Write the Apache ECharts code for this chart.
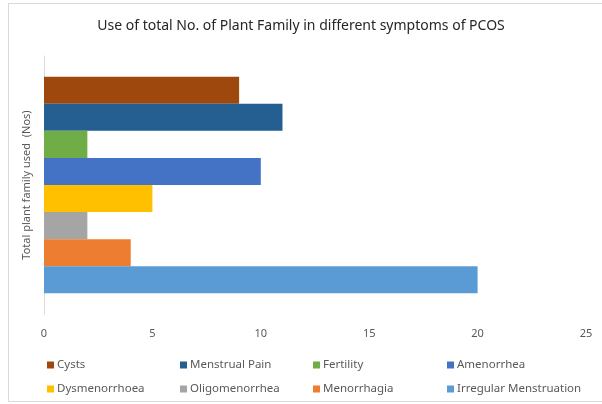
<!DOCTYPE html>
<html>
<head>
<meta charset="utf-8">
<style>
  html, body { margin: 0; padding: 0; background: #fff; }
  #chart { width: 602px; height: 404px; }
</style>
<script src="https://cdn.jsdelivr.net/npm/echarts@6/dist/echarts.min.js"></script>
</head>
<body>
<div id="chart"></div>
<script>
// symptoms, listed top to bottom as in the picture
const symptoms = ['Cysts', 'Menstrual Pain', 'Fertility', 'Amenorrhea',
    'Dysmenorrhoea', 'Oligomenorrhea', 'Menorrhagia', 'Irregular Menstruation'];
const familyCounts = [9, 11, 2, 10, 5, 2, 4, 20];
const colors = ['#9E480E', '#255E91', '#70AD47', '#4472C4',
    '#FFC000', '#A5A5A5', '#ED7D31', '#5B9BD5'];
const xTicks = [0, 5, 10, 15, 20, 25];

const chart = echarts.init(document.getElementById('chart'));
const font = 'Noto Sans';

const series = symptoms.map((name, i) => ({
    name: name,
    type: 'bar',
    data: [familyCounts[i]],
    barGap: 0,
    barCategoryGap: '16%',
    itemStyle: { color: colors[i] },
}));

// four legend columns, two items each
const legendCols = [47, 180, 313, 447];
const legends = legendCols.map((left, c) => ({
    orient: 'vertical',
    left: left,
    top: 359,
    padding: 0,
    itemWidth: 7,
    itemHeight: 7,
    itemGap: 12,
    icon: 'rect',
    selectedMode: false,
    data: [symptoms[c], symptoms[c + 4]],
    textStyle: { color: '#595959', fontSize: 11.5, fontFamily: font, padding: [0, 0, 0, -2] },
}));

const options = {
    animation: false,
    title: {
        text: 'Use of total No. of Plant Family in different symptoms of PCOS',
        left: 'center',
        top: 14,
        textStyle: { color: '#262626', fontSize: 14, fontWeight: 'normal', fontFamily: font },
    },
    graphic: [{
        type: 'rect',
        shape: { x: 8.5, y: 3.5, width: 620, height: 398 },
        style: { fill: 'none', stroke: '#d9d9d9', lineWidth: 1 },
        silent: true,
    }],
    legend: legends,
    grid: { left: 44, right: 16, top: 56, bottom: 90 },
    xAxis: {
        type: 'value',
        min: xTicks[0],
        max: xTicks[xTicks.length - 1],
        interval: 5,
        axisLine: { show: false },
        axisTick: { show: false },
        splitLine: { show: false },
        axisLabel: { color: '#595959', fontSize: 11, fontFamily: font, margin: 14 },
    },
    yAxis: {
        type: 'category',
        data: ['PCOS'],
        name: 'Total plant family used  (Nos)',
        nameLocation: 'middle',
        nameGap: 12,
        nameTextStyle: { color: '#595959', fontSize: 11, fontFamily: font },
        axisLine: { lineStyle: { color: '#d9d9d9' } },
        axisTick: { show: false },
        axisLabel: { show: false },
    },
    series: series,
};
chart.setOption(options);
</script>
</body>
</html>
